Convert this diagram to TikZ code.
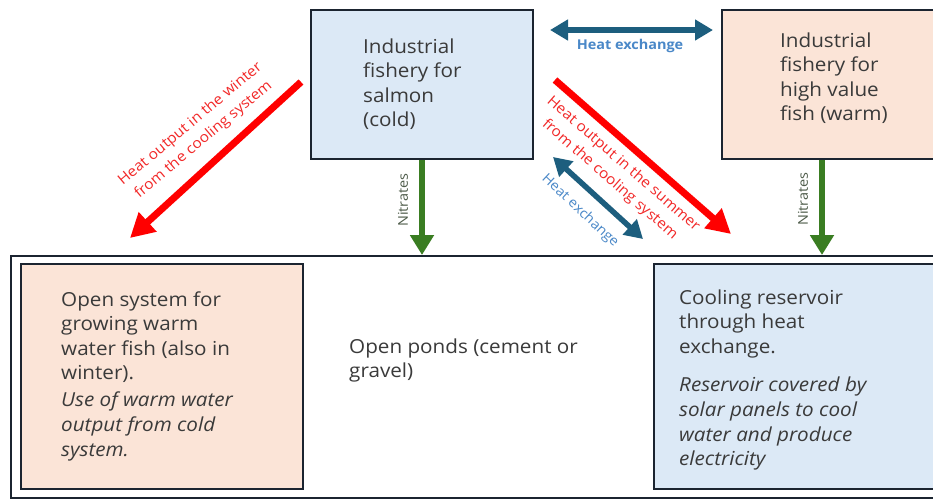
\documentclass[tikz,border=0pt]{standalone}
\usepackage{fontspec}
\setmainfont{Open Sans}[FakeStretch=1.07]
\usetikzlibrary{arrows.meta}
\definecolor{coldfill}{HTML}{DCE9F6}
\definecolor{warmfill}{HTML}{FBE4D7}
\definecolor{boxline}{HTML}{1B2430}
\definecolor{txt}{HTML}{3A3A3A}
\definecolor{heatred}{HTML}{FF0000}
\definecolor{heatlabel}{HTML}{F22A2A}
\definecolor{hxblue}{HTML}{1D5E7E}
\definecolor{hxlabel}{HTML}{4A88C8}
\definecolor{nitgreen}{HTML}{3A7D22}
\definecolor{nitlabel}{HTML}{4E5C4A}
\tikzset{
  x=1pt, y=-1pt,
  box/.style={draw=boxline, line width=2.4pt, anchor=north west, inner sep=0pt},
  bodytext/.style={font=\fontsize{19.3}{24.6}\selectfont, text=txt, align=left, inner sep=0pt, anchor=base west},
  heatarrow/.style={draw=heatred, line width=7pt, -{Triangle[length=24pt,width=25pt]}},
  heatlbl/.style={text=heatlabel, font=\fontsize{14.5}{20.5}\selectfont, align=center, inner sep=0pt},
  hxarrow/.style={draw=hxblue, line width=5.5pt, {Triangle[length=18pt,width=20pt]}-{Triangle[length=18pt,width=20pt]}},
  hxlbl/.style={text=hxlabel, font=\fontsize{13.5}{16}\selectfont, inner sep=0pt},
  nitarrow/.style={draw=nitgreen, line width=6pt, -{Triangle[length=20pt,width=23pt]}},
  nitlbl/.style={text=nitlabel, font=\fontsize{13.5}{16}\selectfont, inner sep=0pt, rotate=90},
}
\begin{document}
\begin{tikzpicture}
\useasboundingbox (0,0) rectangle (933,499);
\clip (0,0) rectangle (933,499);
\fill[white] (0,0) rectangle (933,499);

% top boxes
\node[box, fill=coldfill, minimum width=222pt, minimum height=149pt] (salmon) at (310,9) {};
\node[box, fill=warmfill, minimum width=240pt, minimum height=149pt] (high) at (721,9) {};
% anchor = baseline of the last line
\node[bodytext] (salmontxt) at (363,126.8) {Industrial\\fishery for\\salmon\\(cold)};
\node[bodytext] (hightxt) at (780,120.8) {Industrial\\fishery for\\high value\\fish (warm)};

% bottom frame and boxes
\node[box, minimum width=940pt, minimum height=242pt] (ponds) at (10,255) {};
\node[box, fill=warmfill, minimum width=282pt, minimum height=225pt] (warmsys) at (20,263) {};
\node[box, fill=coldfill, minimum width=300pt, minimum height=225pt] (reservoir) at (653,263) {};
\node[bodytext] (warmtxt) at (61,456.1) {Open system for\\growing warm\\water fish (also in\\winter).\\[2.5pt]\textit{Use of warm water}\\\textit{output from cold}\\\textit{system.}};
\node[bodytext] (restxt) at (679,465.6) {Cooling reservoir\\through heat\\exchange.\\[14pt]\textit{Reservoir covered by}\\\textit{solar panels to cool}\\\textit{water and produce}\\\textit{electricity}};
\node[bodytext] (pondtxt) at (349,377.6) {Open ponds (cement or\\gravel)};

% connector end points
\coordinate (wtail) at (301,82);
\coordinate (whead) at (130,238);
\coordinate (stail) at (555,80);
\coordinate (shead) at (731,234);
\coordinate (dxa) at (553,157);
\coordinate (dxb) at (643,239);
\coordinate (hxa) at (550,30);
\coordinate (hxb) at (713,30);

% arrows
\draw[heatarrow] (wtail) -- (whead);
\draw[heatarrow] (stail) -- (shead);
\draw[hxarrow] (hxa) -- (hxb);
\draw[hxarrow] (dxa) -- (dxb);
\draw[nitarrow] (salmon.south -| 422,0) -- (ponds.north -| 422,0);
\draw[nitarrow] (high.south -| 822,0) -- (ponds.north -| 822,0);

% labels
\node[heatlbl, rotate=40] (wlbl) at (197,132) {Heat output in the winter\\from the cooling system};
\node[heatlbl, rotate=-41] (slbl) at (616.5,172) {Heat output in the summer\\from the cooling system};
\node[hxlbl, font=\fontsize{13.5}{16}\selectfont\bfseries] (hxlbltop) at (630,46) {Heat exchange};
\node[hxlbl, rotate=-43] (hxlbldiag) at (580,211) {Heat exchange};
\node[nitlbl] (nit1) at (403,200) {Nitrates};
\node[nitlbl] (nit2) at (803,199) {Nitrates};
\end{tikzpicture}
\end{document}
